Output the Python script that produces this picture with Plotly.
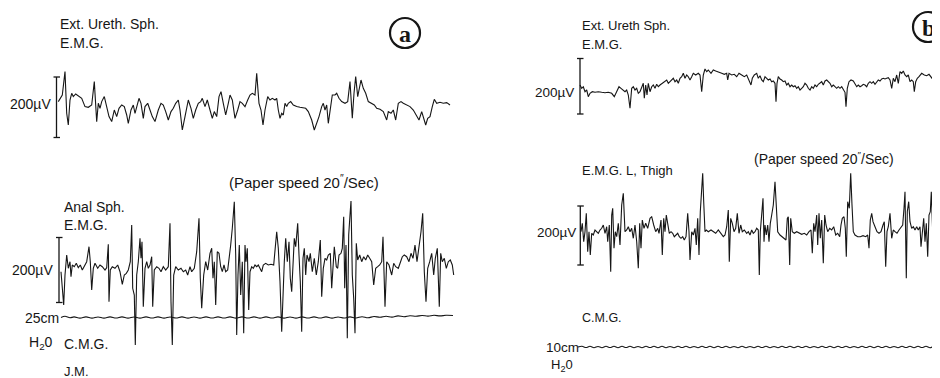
import plotly.graph_objects as go

W, H = 940, 378
OFF = 8          # the page places the figure 8 px in from the top-left corner
INK = "#161616"

# ---------------------------------------------------------------------------
# Recorder channels: (position along the paper, pen deflection) samples.
# Deflection units: 1 unit = 1 recorder division; the 200 uV calibration bar
# of each channel is given in CAL below.
# ---------------------------------------------------------------------------

# (a) Ext. Ureth. Sph. E.M.G.
EUS_A = [(58.3,1.7),(62.3,8.3),(65,31.7),(66.7,-10),(68.3,-21.7),(70,3.3),(71.7,10),(73.3,6.7),(75.7,9.3),(78.3,7.3),
 (81.7,5),(85,-3.3),(88.3,-4),(91.7,-1.7),(94.3,21.7),(96.7,-18.3),(98.3,0),(100,-5),(101.7,1.7),(104.3,6.7),
 (106.7,-3.3),(109,-13.3),(111.7,-18.3),(114.3,-6.7),(116.7,-13.3),(119,-5),(121.7,-1.7),(124.3,-3.3),(126.7,-11.7),(128.3,-20),
 (131,-6.7),(133.3,-1.7),(135,-10),(136.7,-3.3),(139,5),(141,0),(143.3,-15),(145,-3.3),(147.7,0),(150,-6.7),
 (152.3,-13.3),(155,-18.3),(158.3,-6.7),(161,0),(163.3,-1.7),(165.7,-8.3),(168.3,-16.7),(171,-8.3),(173.3,-5),(175.7,0),
 (178.3,3.3),(180,-6.7),(182.3,-26.7),(185,-13.3),(188.3,3.3),(191,-5),(193.3,-15),(195.7,-6.7),(198.3,0),(200.7,1.7),
 (202.3,5),(205,-3.3),(207.3,3.3),(210,-6.7),(212.3,-15),(214.3,-8.3),(216.7,-13.3),(219,6.7),(221,11.7),(223.3,0),
 (225.7,-11.7),(228.3,0),(230,8.3),(232.3,3.3),(235,-15),(237.7,-6.7),(240,1.7),(242.3,0),(245,-3.3),(247.7,3.3),
 (250,8.3),(252.3,10),(255,8.3),(256.7,30),(259,0),(261,-6.7),(263,-21.7),(265,-6.7),(267.7,6.7),(270,3.3),
 (272.3,5),(275,3.3),(276.7,5),(278.3,-6.7),(280,-15),(281.7,-10),(283.3,-11.7),(285,0),(286.7,-3.3),(288.3,0),
 (290.7,1.7),(293.3,-1.7),(296.7,-3.3),(300,-4),(303.3,-5),(305.7,-5),(308.3,-8.3),(311.7,-16.7),(314.3,-26.7),(316.7,-20),
 (319,-13.3),(321.7,-3.3),(323.3,0),(325,-6.7),(326.7,-1.7),(328.3,-20),(330.3,-3.3),(332.3,8.3),(335,8.3),(336.7,10),
 (339,5),(341.7,1.7),(345,0),(347.7,1.7),(350,21.7),(352.3,-15),(354,10),(355.7,26.7),(357.7,6.7),(359,13.3),
 (361,23.3),(363.3,15),(365.7,10),(368.3,1.7),(371.7,0),(374.3,-1.7),(376.7,-5),(380,-6),(383.3,-8.3),(386.7,-16.7),
 (388.3,-8.3),(391,-10),(393.3,-6.7),(395.7,-16.7),(398.3,0),(401,1.7),(403.3,0),(406.7,-1.7),(410,-3.3),(413.3,-6.7),
 (416.7,-13.3),(419,-16.7),(421.7,-8.3),(423.3,-13.3),(425.7,-21.7),(427.7,-15),(430,-13.3),(432.3,-3.3),(434.3,4),(436.7,0),
 (440,1),(443.3,0),(446.7,0.7),(450,-1.7)]

# (a) Anal Sph. E.M.G.
ANAL_A = [(61,-3.7),(62.3,-20.3),(63.7,-37),(65,-7),(66.7,13),(68.3,-0.3),(70,6.3),(71,-8.7),(72.3,3),(74.3,1.3),
 (76.3,4.7),(78.3,0.3),(80.3,3),(82.3,-2),(84.3,1.3),(86.7,6.3),(89,21.3),(90.3,6.3),(91.7,-22),(93.3,-0.3),
 (95,4.7),(97.7,-0.3),(100,3),(102.3,1.3),(105,-2),(106.7,0.3),(108.3,23.7),(109,-33.7),(110.3,-2),(112.3,1.3),
 (115,-0.3),(117.7,3),(120,-3.7),(122.3,-16.3),(124.3,-7),(126.3,-5.3),(128.3,-2),(130.3,6.3),(131.7,43),(132.7,-20.3),
 (134.3,-27),(135.3,-77),(136.7,-7),(138.3,6.3),(140,29.7),(141,9.7),(142,26.3),(143.3,-38.7),(145,-0.3),(146.7,6.3),
 (148.3,-0.3),(150,3),(151.7,11.3),(152.7,-38.7),(154.3,-2),(156.7,1.3),(159,-0.3),(161,-3.7),(163.3,1.3),(165.7,-2),
 (168.3,1.3),(170,44.7),(171,-33.7),(172.3,-77),(173.7,-7),(175.7,1.3),(178.3,-2),(181,-0.3),(183.3,-3.7),(185.7,-2),
 (187.7,-7),(190,1.3),(191.7,-3.7),(194.3,-0.3),(196.7,16.3),(199,49.7),(200.3,-10.3),(201.7,-40.3),(203.7,-7),(205.7,6.3),
 (207.7,-2),(210,14.7),(211.7,19.7),(213,-10.3),(214.3,6.3),(215.7,-37),(217.3,16.3),(219,14.7),(220.7,1.3),(222.3,-3.7),
 (224,3),(225.7,-3.7),(227.7,-2),(229,8),(230.7,23),(232.3,39.7),(234.3,66.3),(235.7,13),(236.7,-67),(238,-7),
 (239.3,23),(240.7,-27),(242.3,6.3),(243.7,-65.3),(245,23),(246,6.3),(247.3,19.7),(248.7,-42),(250,-3.7),(251.7,1.3),
 (253.3,-0.3),(255,3),(256.7,1.3),(258.3,3),(260,-0.3),(261.7,-3.7),(263.3,3),(265.7,4.7),(268.3,3),(271,3.7),
 (273.7,3),(275,16.3),(276.7,36.3),(278.3,19.7),(280,-13.7),(281.7,-63.7),(283.3,-13.7),(284.3,6.3),(285.7,29.7),(287.3,6.3),
 (289,26.3),(290.3,-10.3),(291.7,-23.7),(293,13),(294.3,29.7),(295.7,21.3),(297.7,44.7),(299,13),(300.3,-13.7),(301.7,-63.7),
 (303,9.7),(304.3,19.7),(305.7,-7),(307,13),(309,6.3),(310.3,14.7),(312.3,-3.7),(314.3,9.7),(316.3,-7),(318.3,6.3),
 (320.3,28),(321.7,-28.7),(323.3,-0.3),(325,9.7),(326.7,8),(328.3,13),(330.3,14.7),(331.7,-20.3),(333,6.3),(334.3,21.3),
 (336.3,1.3),(337.7,-0.3),(339,13),(341,14.7),(342.3,19.7),(343.7,51.3),(344.7,-20.3),(346,23),(347.3,-70.3),(348.7,33),
 (350,53),(351,67),(352.3,-7),(353.7,-30.3),(355,-65.3),(356.3,24.7),(357.7,8),(359.7,13),(361.7,6.3),(363.7,11.3),
 (365.7,8),(367.7,13),(369.7,9.7),(371.7,6.3),(373.7,-17),(375.7,-0.3),(377.7,1.3),(379.7,3),(381.7,6.3),(383,31.3),
 (385,-38.7),(386.7,6.3),(389,3),(391.7,-7),(393.7,4.7),(395.7,1.3),(398.3,-0.3),(400.3,6.3),(402.3,11.3),(404.3,13),
 (406.7,11.3),(409,6.3),(411,14.7),(413,9.7),(415,23),(417,6.3),(419,19.7),(421,36.3),(422.7,54.7),(424.3,-3.7),
 (426,-33.7),(427.7,-0.3),(429.7,6.3),(431.7,14.7),(433.7,-7),(435.3,9.7),(437.3,19.7),(439.3,-38.7),(440.7,14.7),(442.3,6.3),
 (444.3,9.7),(446.3,-0.3),(448.3,6.3),(450.3,8),(452.3,3),(453.7,-7)]

# (a) C.M.G. (25 cm H2O)
CMG_A = [(61,0),(65,1.2),(70,-0.3),(74,0.6),(80,-0.6),(86,0.6),(92,-0.6),(98,0.5),(104,-0.6),(110,0.6),
 (116,-0.5),(122,0.6),(128,-0.6),(134,0.5),(140,-0.6),(146,0.6),(152,-0.5),(158,0.6),(164,-0.6),(170,0.5),
 (176,-0.5),(182,0.6),(188,-0.6),(194,0.5),(200,-0.6),(206,0.6),(212,-0.5),(218,0.6),(224,-0.5),(230,0.6),
 (236,-0.6),(242,0.6),(248,-0.5),(254,0.6),(260,-0.6),(266,0.6),(272,-0.5),(278,0.6),(284,-0.6),(290,0.5),
 (296,-0.6),(302,0.6),(308,-0.5),(314,0.6),(320,-0.5),(326,0.6),(332,-0.6),(338,0.5),(344,-0.5),(350,0.6),
 (356,-0.5),(362,0.8),(368,-0.3),(374,1.0),(380,0.2),(386,1.2),(392,0.4),(398,1.6),(404,0.8),(410,1.8),
 (416,1.2),(422,2.0),(428,1.4),(434,2.2),(440,1.6),(446,2.2),(453,2.0)]

# (b) Ext. Ureth Sph. E.M.G.
EUS_B = [(580,2),(581.7,-1.3),(583.3,0.3),(585,-4.7),(586.7,-3),(588.3,-9.7),(590,-6.3),(592.3,-4.7),(595,-5.3),(598.3,-4.7),
 (601.7,-5.3),(605,-5.7),(608.3,-5.3),(611.7,-6.3),(614.3,-9.7),(615.7,-6.3),(617.7,-1.3),(619,0.3),(621,-1.3),(623.3,-3),
 (625,-4.7),(626.7,-3),(628.3,-8),(630,-21.3),(631.7,-1.3),(633.3,0.3),(635,-3),(636.7,-1.3),(638.3,-6.3),(640,-4.7),
 (641.7,0.3),(643.3,3.7),(644.3,-11.3),(645.7,2),(647,-8),(648.3,3.7),(650,-4.7),(651.7,0.3),(653.3,2),(655,-1.3),
 (656.7,2.7),(658.3,0.3),(660,2),(662.3,3.7),(665,5.3),(666.7,7),(668.3,3.7),(671,6),(673.3,8.7),(675,5.3),
 (676.7,7),(678.3,3.7),(680,8.7),(681.7,10.3),(683.3,13.7),(685,8.7),(686.7,12),(688.3,10.3),(690,7),(691.7,10.3),
 (693.3,13.7),(695.7,12),(698.3,13.7),(700,12),(701.7,-4.7),(703.3,12),(705,18),(706.7,15.3),(708.3,17),(711,13.7),
 (713.3,17),(715.7,16),(718.3,15.3),(721.7,13.7),(724.3,12.7),(726.7,13.7),(727.7,7),(729,13.7),(731.7,12),(734.3,12.7),
 (736.7,10.3),(739,13.7),(741.7,12),(744.3,10.3),(746.7,12),(749,7),(751,2),(752.3,8.7),(754.3,12),(756.7,13.7),
 (758.3,8.7),(760,11.3),(761.7,7),(763.3,5.3),(765,10.3),(766.7,8.7),(768.3,7),(770,8),(771.7,5.3),(773.3,6),
 (775,3.7),(776,-14.7),(777,3.7),(778.3,10.3),(780,8),(781.7,7),(783.3,5.3),(785,6),(786.7,2),(788.3,3.7),
 (790,0.3),(791.7,2),(793.3,0.3),(795,1.3),(796.7,-1.3),(798.3,0.3),(800,-3),(801.7,-1.3),(803.3,0.3),(805,3.7),
 (806.7,2),(808.3,-1.3),(810,-3),(811.7,0.3),(813.3,-1.3),(815,2),(816.7,0.3),(818.3,2.7),(820,3.7),(821.7,5.3),
 (823.3,2),(825,6),(826.7,7),(828.3,5.3),(830,3.7),(831.7,0.3),(833.3,2),(835,0.3),(836.7,-1.3),(838.3,0.3),
 (840,-1.3),(841.7,0.3),(843.3,-3),(845,-5.3),(846,-19.7),(847.3,-1.3),(849,5.3),(851,7),(853.3,6),(855,3.7),
 (856.7,0.3),(858.3,2),(860,0.3),(861.7,1.3),(863.3,2.7),(865,2),(866.7,0.3),(868.3,3.7),(870,5.3),(871.7,3.7),
 (873.3,5.3),(875,2.7),(876.7,5.3),(878.3,7),(880,6),(881.7,8),(883.3,8.7),(885,8),(886.7,8.7),(888.3,9.3),
 (890,7),(891.7,-1.3),(893.3,8.7),(895,5.3),(896.7,12),(898.3,3.7),(900,15.3),(901.7,13.7),(903.3,16),(905,12),
 (906.7,10.3),(908.3,12),(910,5.3),(911.7,7),(913.3,5.3),(914.3,-4.7),(915.7,5.3),(917.3,8.7),(919,10.3),(921.7,13.7),
 (924.3,12),(926.7,11.3),(929,12.7),(931,10.3),(933.3,7),(935,12),(936.7,11.3),(939,11.3)]

# (b) E.M.G. L. Thigh
THIGH_B = [(581,0.3),(582.3,8.7),(583.7,-9.7),(585,0.3),(586.3,18.7),(587.7,-19.7),(589,0.3),(590.3,-23),(591.7,-1.3),(593.3,-3),
 (595,2),(596.7,0.3),(598.3,-1.3),(600,2),(601.7,3.7),(603.3,7),(605,-1.3),(606.7,5.3),(607.7,-9.7),(609.3,7),
 (610.7,-39.7),(611.7,17),(612.7,23.7),(614,-16.3),(615.3,0.3),(616.7,-4.7),(618.3,8.7),(620,-13),(621.7,27),(623.3,38.7),
 (625,0.3),(626.7,2),(628.3,5.3),(630,0.3),(631.7,3.7),(633.3,-6.3),(635,7),(636.7,-9.7),(638.3,-36.3),(639.7,8.7),
 (641,-16.3),(642.3,12),(644,3.7),(645.7,8.7),(647.7,3.7),(650,13.7),(651.7,15.3),(653.7,7),(655.7,0.3),(657.7,3.7),
 (659,-1.3),(661,12),(662.3,-23),(663.7,13.7),(665,0.3),(666.3,17),(667.7,7),(669.3,-1.3),(671,0.3),(672.7,-1.3),
 (674.3,-4.7),(676,-3),(677.7,-1.3),(679.3,-4.7),(681,-6.3),(682.7,-4.7),(684.3,-8),(686,-4.7),(687.7,18.7),(689,0.3),
 (690,-28),(691.7,0.3),(693.3,-3),(695,3.7),(696.3,-13),(697.7,13.7),(699,-23),(700.3,20.3),(701.7,47),(702.7,58.7),
 (703.7,30.3),(705,0.3),(706.3,2),(708.3,0.3),(711,2),(713.3,0.3),(715.7,-1.3),(718.3,2),(721,-1.3),(723.3,-4.7),
 (725,-3),(726.7,5.3),(728.3,22),(729.3,-29.7),(730.7,13.7),(732.3,8.7),(734,0.3),(735.7,3.7),(737.3,18.7),(739,-1.3),
 (740.7,7),(742.3,0.3),(744.3,2),(746.7,-1.3),(748.3,0.3),(750,-3),(751.7,2),(753.3,-1.3),(755,0.3),(756.7,3.7),
 (758.3,2),(759.3,-43),(760.3,0.3),(761.7,20.3),(763,33.7),(764,-9.7),(765,7),(766.3,-3),(767.7,7),(769,-9.7),
 (770.3,8.7),(771.7,17),(773.3,27),(775,50.3),(776.3,23.7),(777.7,0.3),(780,-3),(782.3,-4.7),(784.3,-6.3),(786,-8),
 (787.3,13.7),(788.3,15.3),(789.7,-33),(790.7,13.7),(792.3,0.3),(794.3,-1.3),(796.7,0.3),(799,-1.3),(801.7,-2.3),(804.3,-1.3),
 (806.7,-3),(809,0.3),(811,2),(812.3,-21.3),(813.7,8.7),(815,0.3),(816.7,17),(817.7,-13),(819,18.7),(820.3,-6.3),
 (821.7,12),(823.3,-31.3),(824.7,17),(826,7),(827.7,0.3),(829.7,3.7),(831.7,2),(833.7,5.3),(835.7,-3),(837.7,-1.3),
 (839.7,-4.7),(841,7),(842.3,13.7),(844,15.3),(845.3,3.7),(846.3,-24.7),(847.7,30.3),(849.3,23.7),(850.7,58.7),(852,27),
 (853.3,0.3),(855,-3),(857.7,-4.7),(860.3,-4.7),(863,-3.7),(865.7,-4.7),(867.7,-3),(869,-16.3),(870.3,12),(871.7,18.7),
 (873,10.3),(875,5.3),(877,0.3),(879,-1.3),(881,0.3),(883,7),(884.3,10.3),(885.7,-34.7),(887,0.3),(888.3,5.3),
 (890,18.7),(891.7,-6.3),(893.3,2),(895,0.3),(897,-1.3),(899,2),(901,5.3),(902.7,7),(904,23.7),(905,40.3),
 (906.3,-46.3),(907.3,20.3),(908.7,30.3),(910,10.3),(911.7,3.7),(913.3,5.3),(915,2),(916.7,5.3),(918.3,2),(920,5.3),
 (921,-14.7),(922.3,3.7),(923.7,13.7),(925,-9.7),(926.3,8.7),(927.7,-24.7),(929,17),(930.3,20.3),(931.3,40.3),(932.7,0.3),
 (934,7),(935.7,-1.3),(937.7,0.3),(939.3,3.7)]

# (b) C.M.G. (10 cm H2O)
CMG_B = [(578,0),(582,0.7),(586,-0.5),(590,0.7),(594,-0.7),(598,0.5),(602,-0.7),(606,0.7),(610,-0.5),(614,0.7),
 (618,-0.7),(622,0.7),(626,-0.5),(630,0.7),(634,-0.7),(638,0.5),(642,-0.7),(646,0.7),(650,-0.5),(654,0.7),
 (658,-0.7),(662,0.7),(666,-0.7),(670,0.5),(674,-0.7),(678,0.7),(682,-0.5),(686,0.7),(690,-0.7),(694,0.5),
 (698,-0.7),(702,0.7),(706,-0.5),(710,0.7),(714,-0.7),(718,0.7),(722,-0.5),(726,0.7),(730,-0.7),(734,0.5),
 (738,-0.7),(742,0.7),(746,-0.7),(750,0.5),(754,-0.7),(758,0.7),(762,-0.5),(766,0.7),(770,-0.7),(774,0.5),
 (778,-0.7),(782,0.7),(786,-0.5),(790,0.7),(794,-0.7),(798,0.7),(802,-0.5),(806,0.7),(810,-0.7),(814,0.5),
 (818,-0.7),(822,0.7),(826,-0.5),(830,0.7),(834,-0.7),(838,0.7),(842,-0.5),(846,0.7),(850,-0.7),(854,0.5),
 (858,-0.7),(862,0.7),(866,-0.5),(870,0.7),(874,-0.7),(878,0.7),(882,-0.5),(886,0.7),(890,-0.7),(894,0.5),
 (898,-0.7),(902,0.7),(906,-0.5),(910,0.7),(914,-0.7),(918,0.7),(922,-0.5),(926,0.7),(930,-0.7),(934,0.5),(938,-0.5)]

# channel order, baseline position on the page (px from top), smooth pen?
CHANNELS = [
    (EUS_A, 103.3, False),
    (ANAL_A, 268.0, False),
    (CMG_A, 317.5, True),
    (EUS_B, 87.0, False),
    (THIGH_B, 232.0, False),
    (CMG_B, 347.0, True),
]

# 200 uV calibration bars: (channel index, position, top deflection, bottom deflection)
CAL = [(0, 56.5, 26.3, -34.2), (1, 59.0, 30.5, -34.5), (3, 580.0, 28.5, -27.0), (4, 580.3, 26.0, -33.0)]

# text labels: (text, left x px, centre y px, font size)
LABELS = [
    ("Ext. Ureth. Sph.", 58, 24, 14), ("E.M.G.", 58, 42.5, 14), ("200µV", 8, 104, 14),
    ("(Paper speed 20<sup>″</sup>/Sec)", 227, 181, 15),
    ("Anal Sph.", 62, 207, 14), ("E.M.G.", 62, 225, 14), ("200µV", 10, 270, 14),
    ("25cm", 23, 318, 14), ("H<sub>2</sub>0", 27, 343, 14), ("C.M.G.", 62, 344, 14), ("J.M.", 62, 371, 13),
    ("Ext. Ureth Sph.", 580, 26, 13), ("E.M.G.", 580, 44, 13), ("200µV", 533, 92.5, 13.5),
    ("(Paper speed 20<sup>″</sup>/Sec)", 752, 158, 14), ("E.M.G. L, Thigh", 580, 170, 13),
    ("200µV", 535, 232, 13.5), ("C.M.G.", 580, 318, 12.5), ("10cm", 544, 347.5, 13.5),
    ("H<sub>2</sub>0", 549, 365, 13),
]

# panel tags: (letter, centre x px, centre y px, radius px)
TAGS = [("a", 405, 33, 15), ("b", 928, 27, 15)]

PW, PH = W - OFF, H - OFF       # drawable figure size


def py(y):
    """page pixel row -> paper fraction"""
    return 1 - (y - OFF) / PH


fig = go.Figure()
layout_axes = {}
for i, (pts, base, smooth) in enumerate(CHANNELS):
    ax = "y" if i == 0 else f"y{i + 1}"
    t = [p[0] for p in pts]
    v = [p[1] for p in pts]
    fig.add_trace(go.Scatter(
        x=t, y=v, mode="lines", yaxis=ax, hoverinfo="skip",
        line=dict(color=INK, width=1.1, shape="spline" if smooth else "linear"),
    ))
    key = "yaxis" if i == 0 else f"yaxis{i + 1}"
    cfg = dict(range=[base - H, base - OFF], domain=[0, 1], visible=False, fixedrange=True)
    if i > 0:
        cfg["overlaying"] = "y"
    layout_axes[key] = cfg

shapes = []
for ch, xc, top, bot in CAL:
    yref = "y" if ch == 0 else f"y{ch + 1}"
    lw = dict(color=INK, width=1.3)
    shapes.append(dict(type="line", xref="x", yref=yref, x0=xc, x1=xc, y0=top, y1=bot, line=lw))
    shapes.append(dict(type="line", xref="x", yref=yref, x0=xc - 3, x1=xc + 3.5, y0=top, y1=top, line=lw))
    shapes.append(dict(type="line", xref="x", yref=yref, x0=xc - 3, x1=xc + 3.5, y0=bot, y1=bot, line=lw))

annotations = []
for text, x, y, size in LABELS:
    annotations.append(dict(
        text=text, x=x, y=py(y), xref="x", yref="paper", xanchor="left", yanchor="middle",
        showarrow=False, font=dict(family="Liberation Sans, Arial, sans-serif", size=size, color=INK),
    ))

for letter, cx, cy, r in TAGS:
    shapes.append(dict(type="circle", xref="x", yref="paper", x0=cx - r, x1=cx + r,
                       y0=py(cy + r), y1=py(cy - r), line=dict(color=INK, width=2.2)))
    annotations.append(dict(
        text=f"<b>{letter}</b>", x=cx, y=py(cy + 1), xref="x", yref="paper", xanchor="center",
        yanchor="middle", showarrow=False,
        font=dict(family="Liberation Serif, DejaVu Serif, serif", size=24, color=INK),
    ))

fig.update_layout(
    width=PW, height=PH, margin=dict(l=0, r=0, t=0, b=0),
    paper_bgcolor="white", plot_bgcolor="white", showlegend=False,
    xaxis=dict(range=[OFF, W], domain=[0, 1], visible=False, fixedrange=True),
    shapes=shapes, annotations=annotations,
    **layout_axes,
)

fig.write_html("out.html")
